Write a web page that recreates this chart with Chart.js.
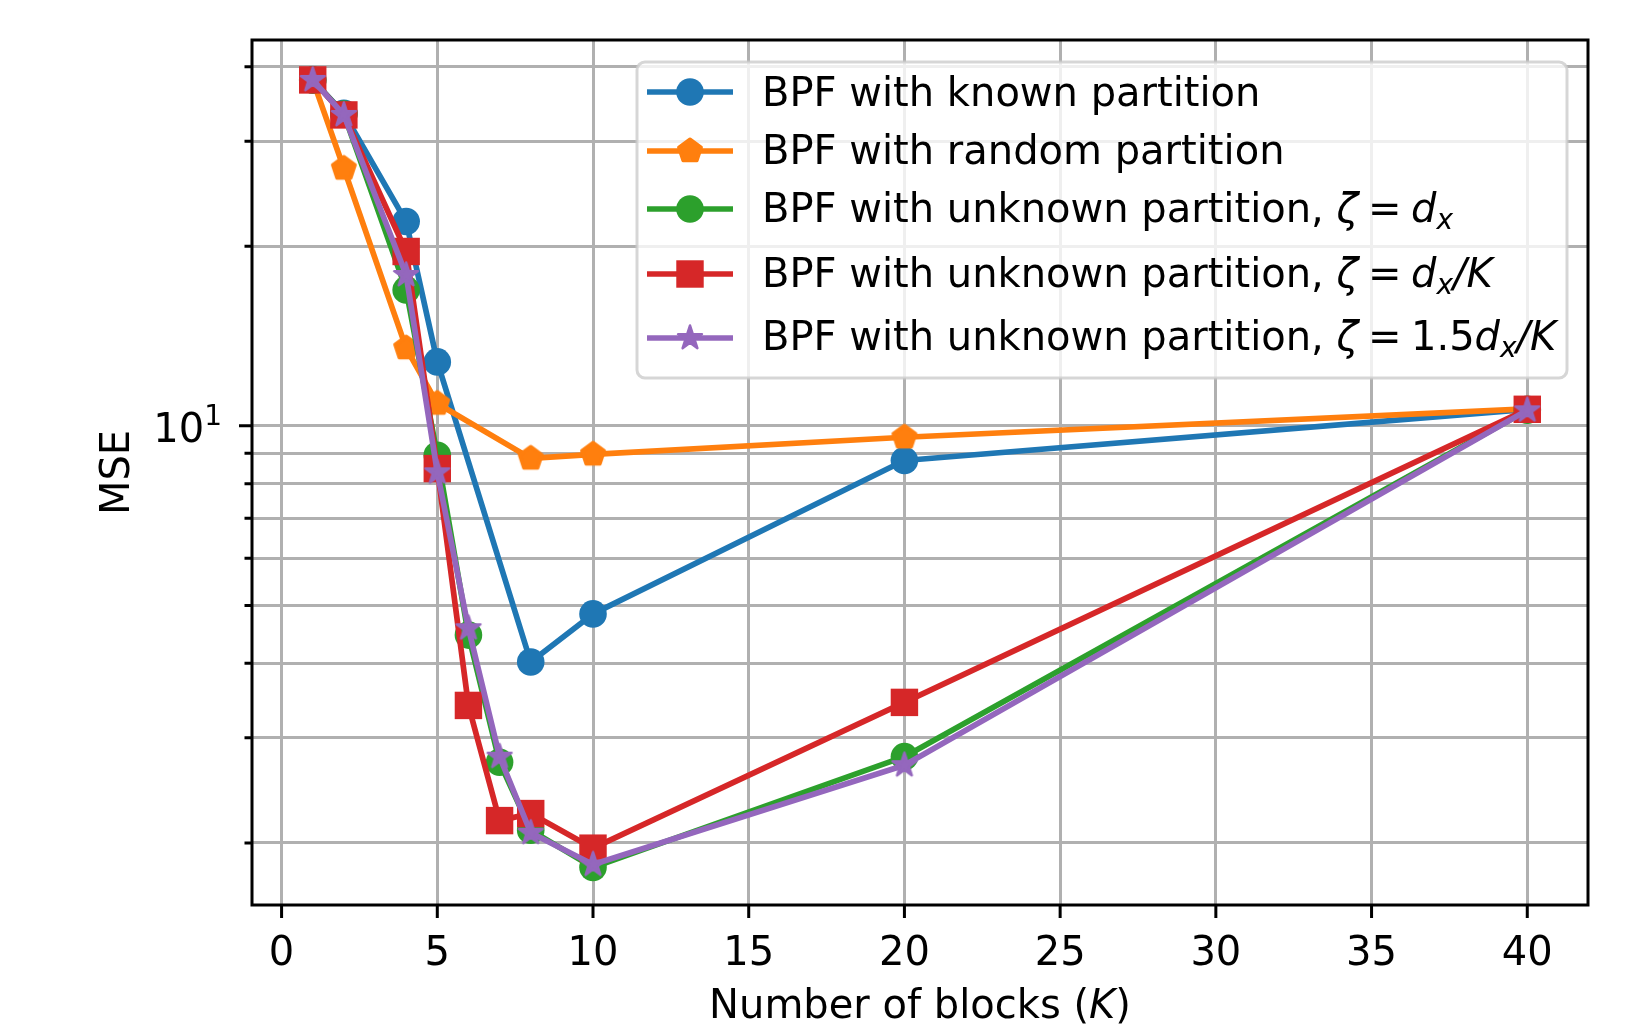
<!DOCTYPE html>
<html lang="en">
<head>
<meta charset="utf-8">
<title>MSE vs number of blocks</title>
<script src="https://cdn.jsdelivr.net/npm/chart.js@4.4.1/dist/chart.umd.min.js"></script>
<style>
  html, body { margin: 0; padding: 0; background: #ffffff; }
  canvas { display: block; }
</style>
</head>
<body>
<canvas id="mseChart" width="1631" height="1024"></canvas>
<script>
/* ---- data ---- */
const kSparse = [1, 2, 4, 5, 8, 10, 20, 40];
const kDense  = [1, 2, 4, 5, 6, 7, 8, 10, 20, 40];

const mseKnown      = [38.0, 33.4, 22.0, 12.8, 4.02, 4.84, 8.75, 10.66];
const mseRandom     = [38.0, 27.0, 13.5, 10.9, 8.82, 8.96, 9.57, 10.68];
const mseZetaDx     = [38.0, 33.3, 16.9, 8.93, 4.46, 2.73, 2.10, 1.82, 2.79, 10.62];
const mseZetaDxK    = [38.0, 33.2, 19.6, 8.48, 3.40, 2.18, 2.24, 1.96, 3.44, 10.66];
const mseZeta15DxK  = [38.0, 33.2, 17.9, 8.36, 4.58, 2.79, 2.08, 1.84, 2.70, 10.62];

const xTickValues  = [0, 5, 10, 15, 20, 25, 30, 35, 40];
const yGridValues  = [2, 3, 4, 5, 6, 7, 8, 9, 10, 20, 30, 40];
const yLabelValues = [10];

const seriesNames = [
  'BPF with known partition',
  'BPF with random partition',
  'BPF with unknown partition, ζ = d_x',
  'BPF with unknown partition, ζ = d_x/K',
  'BPF with unknown partition, ζ = 1.5d_x/K'
];

// legend labels as text runs (italic / subscript parts of the math)
const ZETA_EQ = [{ t: 'ζ', it: true }, { gap: 0.24 }, { t: '=' }, { gap: 0.24 }];
const legendRuns = [
  [{ t: 'BPF with known partition' }],
  [{ t: 'BPF with random partition' }],
  [{ t: 'BPF with unknown partition, ' }, ...ZETA_EQ, { t: 'd', it: true }, { t: 'x', it: true, sub: true }],
  [{ t: 'BPF with unknown partition, ' }, ...ZETA_EQ, { t: 'd', it: true }, { t: 'x', it: true, sub: true }, { t: '/K', it: true }],
  [{ t: 'BPF with unknown partition, ' }, ...ZETA_EQ, { t: '1.5' }, { t: 'd', it: true }, { t: 'x', it: true, sub: true }, { t: '/K', it: true }]
];

const COLORS = ['#1f77b4', '#ff7f0e', '#2ca02c', '#d62728', '#9467bd'];
const FONT = '"DejaVu Sans", sans-serif';
const FS = 40;

/* ---- marker images for shapes Chart.js lacks ---- */
function polyMarker(kind, color) {
  const c = document.createElement('canvas');
  c.width = 36; c.height = 36;
  const g = c.getContext('2d');
  g.translate(18, 18);
  const star = kind === 'star';
  const R = star ? 12.6 : 11.8;
  const r = star ? R * 0.382 : R;
  const steps = star ? 10 : 5;
  g.beginPath();
  for (let i = 0; i < steps; i++) {
    const rad = (star && i % 2) ? r : R;
    const ang = -Math.PI / 2 + i * 2 * Math.PI / steps;
    g.lineTo(rad * Math.cos(ang), rad * Math.sin(ang));
  }
  g.closePath();
  g.fillStyle = color;
  g.strokeStyle = color;
  g.lineWidth = star ? 2.4 : 3.4;
  g.lineJoin = 'round';
  g.fill();
  g.stroke();
  return c;
}

const markers = [
  { style: 'circle', radius: 13.8 },
  { style: polyMarker('pentagon', COLORS[1]), radius: 14 },
  { style: 'circle', radius: 13.8 },
  { style: 'rect', radius: 19.4 },
  { style: polyMarker('star', COLORS[4]), radius: 14 }
];

const seriesX = [kSparse, kSparse, kDense, kDense, kDense];
const seriesY = [mseKnown, mseRandom, mseZetaDx, mseZetaDxK, mseZeta15DxK];

/* ---- rich text helpers ---- */
function runFont(run, size) {
  const s = (run.sub || run.sup) ? size * 0.7 : size;
  return (run.it ? 'italic ' : '') + s + 'px ' + FONT;
}

function measureRuns(ctx, runs, size) {
  let w = 0;
  runs.forEach(run => {
    if (run.gap) { w += run.gap * size; return; }
    ctx.font = runFont(run, size);
    w += ctx.measureText(run.t).width;
  });
  return w;
}

function drawRuns(ctx, runs, x, y, size) {
  ctx.textAlign = 'left';
  ctx.textBaseline = 'alphabetic';
  runs.forEach(run => {
    if (run.gap) { x += run.gap * size; return; }
    ctx.font = runFont(run, size);
    let dy = 0;
    if (run.sub) dy = 0.17 * size;
    if (run.sup) dy = -0.42 * size;
    ctx.fillText(run.t, x, y + dy);
    x += ctx.measureText(run.t).width;
  });
  return x;
}

/* ---- axes decoration, titles and legend ---- */
const figurePlugin = {
  id: 'figure',
  afterDraw(chart) {
    const ctx = chart.ctx;
    const a = chart.chartArea;
    const xs = chart.scales.x;
    const ys = chart.scales.y;
    ctx.save();

    // spines
    ctx.strokeStyle = '#000000';
    ctx.lineWidth = 3;
    ctx.strokeRect(a.left, a.top, a.right - a.left, a.bottom - a.top);

    // tick marks
    ctx.beginPath();
    xTickValues.forEach(v => {
      const px = xs.getPixelForValue(v);
      ctx.moveTo(px, a.bottom);
      ctx.lineTo(px, a.bottom + 13);
    });
    yGridValues.forEach(v => {
      const py = ys.getPixelForValue(v);
      const len = yLabelValues.includes(v) ? 13 : 7.5;
      ctx.moveTo(a.left, py);
      ctx.lineTo(a.left - len, py);
    });
    ctx.stroke();

    // tick labels
    ctx.fillStyle = '#000000';
    ctx.font = FS + 'px ' + FONT;
    ctx.textAlign = 'center';
    ctx.textBaseline = 'alphabetic';
    xTickValues.forEach(v => ctx.fillText(String(v), xs.getPixelForValue(v), a.bottom + 60));

    yLabelValues.forEach(v => {
      const py = ys.getPixelForValue(v);
      const runs = [{ t: '10' }, { t: String(Math.round(Math.log10(v))), sup: true }];
      const w = measureRuns(ctx, runs, FS);
      drawRuns(ctx, runs, a.left - 30 - w, py + 16, FS);
    });

    // axis titles
    const xTitle = [{ t: 'Number of blocks (' }, { t: 'K', it: true }, { t: ')' }];
    const xw = measureRuns(ctx, xTitle, FS);
    drawRuns(ctx, xTitle, (a.left + a.right) / 2 - xw / 2, 1018, FS);

    ctx.save();
    ctx.translate(129, (a.top + a.bottom) / 2);
    ctx.rotate(-Math.PI / 2);
    ctx.font = FS + 'px ' + FONT;
    ctx.textAlign = 'center';
    ctx.fillText('MSE', 0, 0);
    ctx.restore();

    // legend
    const box = { x: 637, y: 62, w: 930, h: 316, r: 8 };
    ctx.beginPath();
    ctx.roundRect(box.x, box.y, box.w, box.h, box.r);
    ctx.fillStyle = 'rgba(255,255,255,0.8)';
    ctx.fill();
    ctx.lineWidth = 3;
    ctx.strokeStyle = 'rgba(204,204,204,0.8)';
    ctx.stroke();

    const handleY = [92, 151, 209, 274, 338];
    const textY = [106, 164, 222, 287, 350];
    legendRuns.forEach((runs, i) => {
      ctx.strokeStyle = COLORS[i];
      ctx.fillStyle = COLORS[i];
      ctx.lineWidth = 5.7;
      ctx.lineCap = 'butt';
      ctx.beginPath();
      ctx.moveTo(647, handleY[i]);
      ctx.lineTo(733, handleY[i]);
      ctx.stroke();
      Chart.helpers.drawPoint(ctx, {
        pointStyle: markers[i].style,
        radius: markers[i].radius,
        rotation: 0,
        borderWidth: 0
      }, 690, handleY[i]);
      ctx.fillStyle = '#000000';
      drawRuns(ctx, runs, 762, textY[i], FS);
    });

    ctx.restore();
  }
};

/* ---- chart ---- */
const datasets = seriesNames.map((name, i) => ({
  label: name,
  data: seriesX[i].map((k, j) => ({ x: k, y: seriesY[i][j] })),
  borderColor: COLORS[i],
  backgroundColor: COLORS[i],
  borderWidth: 5.7,
  borderJoinStyle: 'round',
  tension: 0,
  pointStyle: markers[i].style,
  pointRadius: markers[i].radius,
  pointBorderWidth: 0,
  pointBackgroundColor: COLORS[i],
  pointHoverRadius: markers[i].radius,
  order: 5 - i
}));

new Chart(document.getElementById('mseChart'), {
  type: 'line',
  data: { datasets },
  plugins: [figurePlugin],
  options: {
    responsive: false,
    animation: false,
    events: [],
    layout: { padding: { top: 40, right: 43, bottom: 0, left: 0 } },
    plugins: {
      legend: { display: false },
      tooltip: { enabled: false }
    },
    scales: {
      x: {
        type: 'linear',
        min: -0.95,
        max: 41.95,
        afterBuildTicks: s => { s.ticks = xTickValues.map(v => ({ value: v })); },
        afterFit: s => { s.height = 119; },
        ticks: { display: false },
        grid: { color: '#b0b0b0', lineWidth: 3, drawTicks: false },
        border: { display: false }
      },
      y: {
        type: 'logarithmic',
        min: 1.574,
        max: 44.33,
        afterBuildTicks: s => { s.ticks = yGridValues.map(v => ({ value: v, major: yLabelValues.includes(v) })); },
        afterFit: s => { s.width = 252; },
        ticks: { display: false },
        grid: { color: '#b0b0b0', lineWidth: 3, drawTicks: false },
        border: { display: false }
      }
    }
  }
});
</script>
</body>
</html>
